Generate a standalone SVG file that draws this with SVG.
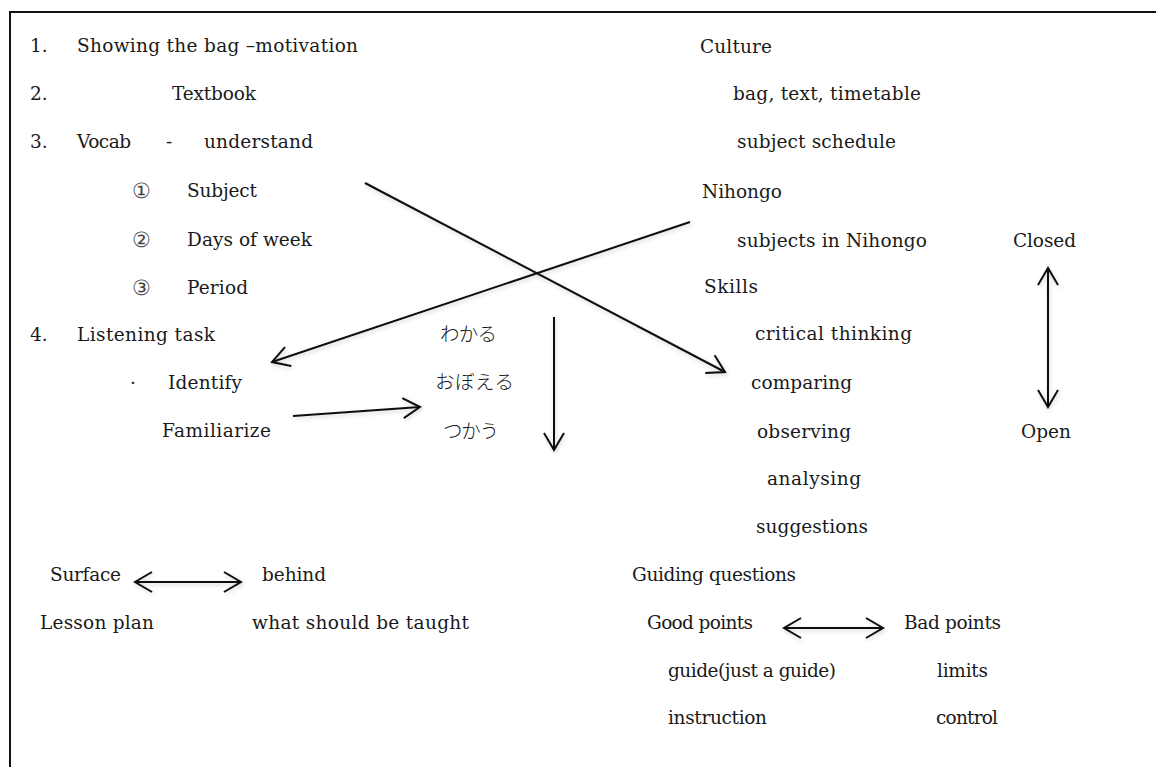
<svg xmlns="http://www.w3.org/2000/svg" width="1156" height="767" viewBox="0 0 1156 767">
  <style>
    text { font-family: "DejaVu Serif", "Liberation Serif", serif; font-size: 18.5px; fill: #1a1a1a; }
    .jp { font-family: "Noto Sans CJK JP", sans-serif; font-size: 19.5px; font-weight: 300; }
    .circ { font-family: "DejaVu Sans", sans-serif; font-size: 21px; font-weight: 300; fill: #444; }
    .frame { stroke: #111; stroke-width: 2; fill: none; }
    .link { stroke: #111; stroke-width: 2; fill: none; filter: url(#soft); }
    .arrow { marker-end: url(#chev); }
    .both { marker-start: url(#chev); marker-end: url(#chev); }
  </style>
  <defs>
    <!-- open chevron arrowhead, reversed at the start for two-way arrows -->
    <marker id="chev" markerUnits="userSpaceOnUse" viewBox="-20 -12 24 24" refX="0" refY="0" markerWidth="24" markerHeight="24" orient="auto-start-reverse">
      <path d="M -17 -10 L 0 0 L -17 10" fill="none" stroke="#111" stroke-width="2" stroke-linejoin="miter"/>
    </marker>
    <filter id="soft" filterUnits="userSpaceOnUse" x="0" y="0" width="1156" height="767">
      <feDropShadow dx="1" dy="2" stdDeviation="2" flood-color="#000" flood-opacity="0.18"/>
    </filter>
  </defs>

  <rect width="1156" height="767" fill="#fff"/>

  <!-- page frame: top and left edges only -->
  <path class="frame" d="M 10 767 L 10 12 L 1156 12"/>

  <!-- lesson steps -->
  <g id="step1"><text x="30" y="52">1.</text><text x="77" y="52" textLength="281">Showing the bag –motivation</text></g>
  <g id="step2"><text x="30" y="100">2.</text><text x="172" y="100" textLength="84">Textbook</text></g>
  <g id="step3"><text x="30" y="148">3.</text><text x="77" y="148" textLength="54">Vocab</text><text x="166" y="148">-</text><text x="204" y="148" textLength="109">understand</text></g>
  <g id="vocab-subject"><text class="circ" x="132" y="198">①</text><text x="187" y="197" textLength="70">Subject</text></g>
  <g id="vocab-days"><text class="circ" x="132" y="247">②</text><text x="187" y="246" textLength="125">Days of week</text></g>
  <g id="vocab-period"><text class="circ" x="132" y="295">③</text><text x="187" y="294" textLength="61">Period</text></g>
  <g id="step4"><text x="30" y="341">4.</text><text x="77" y="341" textLength="138">Listening task</text></g>
  <g id="identify"><text x="130" y="389">·</text><text x="168" y="389" textLength="74">Identify</text></g>
  <g id="familiarize"><text x="162" y="437" textLength="109">Familiarize</text></g>

  <!-- learning stages -->
  <g id="wakaru"><text class="jp" x="440" y="341" textLength="57">わかる</text></g>
  <g id="oboeru"><text class="jp" x="435" y="389" textLength="79">おぼえる</text></g>
  <g id="tsukau"><text class="jp" x="443" y="438" textLength="56">つかう</text></g>

  <!-- culture / language / skills -->
  <g id="culture"><text x="700" y="53" textLength="72">Culture</text></g>
  <g id="culture-items"><text x="733" y="100" textLength="188">bag, text, timetable</text><text x="737" y="148" textLength="159">subject schedule</text></g>
  <g id="nihongo"><text x="702" y="198" textLength="80">Nihongo</text></g>
  <g id="nihongo-items"><text x="737" y="247" textLength="190">subjects in Nihongo</text></g>
  <g id="skills"><text x="704" y="293" textLength="54">Skills</text></g>
  <g id="skill-critical"><text x="755" y="340" textLength="157">critical thinking</text></g>
  <g id="skill-comparing"><text x="751" y="389" textLength="101">comparing</text></g>
  <g id="skill-observing"><text x="757" y="438" textLength="94">observing</text></g>
  <g id="skill-analysing"><text x="767" y="485" textLength="94">analysing</text></g>
  <g id="skill-suggestions"><text x="756" y="533" textLength="112">suggestions</text></g>
  <g id="closed"><text x="1013" y="247" textLength="63">Closed</text></g>
  <g id="open"><text x="1021" y="438" textLength="50">Open</text></g>

  <!-- surface vs behind -->
  <g id="surface"><text x="50" y="581" textLength="71">Surface</text></g>
  <g id="behind"><text x="262" y="581" textLength="64">behind</text></g>
  <g id="lesson-plan"><text x="40" y="629" textLength="114">Lesson plan</text></g>
  <g id="taught"><text x="252" y="629" textLength="217">what should be taught</text></g>

  <!-- guiding questions -->
  <g id="guiding"><text x="632" y="581" textLength="164">Guiding questions</text></g>
  <g id="good"><text x="647" y="629" textLength="106">Good points</text><text x="668" y="677" textLength="168">guide(just a guide)</text><text x="668" y="724" textLength="99">instruction</text></g>
  <g id="bad"><text x="904" y="629" textLength="97">Bad points</text><text x="937" y="677" textLength="51">limits</text><text x="936" y="724" textLength="62">control</text></g>

  <!-- connectors -->
  <g id="connectors">
    <line class="link arrow" x1="365" y1="183" x2="725" y2="372"/>
    <line class="link arrow" x1="690" y1="222" x2="272" y2="362"/>
    <line class="link arrow" x1="293" y1="416" x2="420" y2="407"/>
    <line class="link arrow" x1="554" y1="317" x2="554" y2="450"/>
    <line class="link both" x1="1048" y1="268" x2="1048" y2="407"/>
    <line class="link both" x1="135" y1="582" x2="241" y2="582"/>
    <line class="link both" x1="784" y1="628" x2="883" y2="628"/>
  </g>
</svg>
